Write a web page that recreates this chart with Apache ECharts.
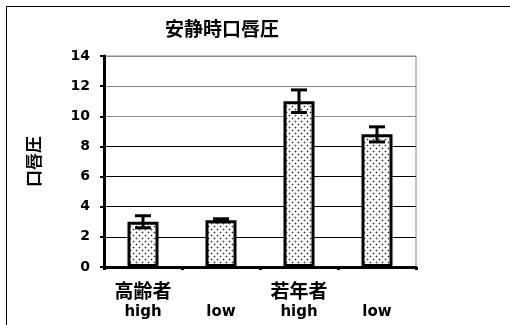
<!DOCTYPE html>
<html>
<head>
<meta charset="utf-8">
<script src="https://cdn.jsdelivr.net/npm/echarts@6/dist/echarts.min.js"></script>
<style>
  html, body { margin: 0; padding: 0; background: #fff; }
  #chart { width: 510px; height: 325px; }
</style>
</head>
<body>
<div id="chart"></div>
<script>
const groups = ['高齢者', '', '若年者', '']
const levels = ['high', 'low', 'high', 'low']
const values = [3.0, 3.1, 11.0, 8.8]
const errors = [0.4, 0.1, 0.75, 0.5]
const yTicks = [0, 14, 2]   // min, max, interval

const font = '"DejaVu Sans", "Noto Sans CJK JP", sans-serif'

// dotted fill like the original
const makeDots = () => {
  const c = document.createElement('canvas')
  c.width = 6
  c.height = 6
  const ctx = c.getContext('2d')
  ctx.fillStyle = '#fff'
  ctx.fillRect(0, 0, 6, 6)
  ctx.fillStyle = '#bbb'
  ctx.fillRect(0, 1, 3, 1)
  ctx.fillRect(1, 0, 1, 3)
  ctx.fillRect(3, 4, 3, 1)
  ctx.fillRect(4, 3, 1, 3)
  ctx.fillStyle = '#333'
  ctx.fillRect(1, 1, 1, 1)
  ctx.fillRect(4, 4, 1, 1)
  return c
}

const chart = echarts.init(document.getElementById('chart'))

const option = {
  backgroundColor: '#fff',
  animation: false,
  title: {
    text: '安静時口唇圧',
    left: 160,
    top: 17,
    textStyle: { fontFamily: font, fontSize: 19, fontWeight: 'bold', color: '#000' },
  },
  graphic: [{
    type: 'rect',
    shape: { x: 6.5, y: 6.5, width: 600, height: 400 },
    style: { fill: 'none', stroke: '#000', lineWidth: 1 },
    silent: true,
  }],
  grid: {
    left: 104,
    top: 56,
    right: 94,
    bottom: 58,
    show: true,
    borderColor: '#888',
    borderWidth: 1,
  },
  xAxis: [
    {
      type: 'category',
      data: levels,
      position: 'bottom',
      axisLine: { lineStyle: { color: '#000', width: 3 } },
      axisTick: { show: true, interval: 0, length: 3, lineStyle: { color: '#000', width: 3 } },
      axisLabel: {
        interval: 0, margin: 38, color: '#000',
        fontFamily: font, fontSize: 15, fontWeight: 'bold',
      },
      splitLine: { show: false },
    },
    {
      type: 'category',
      data: groups,
      position: 'bottom',
      axisLine: { show: false },
      axisTick: { show: false },
      axisLabel: {
        interval: 0, margin: 17, color: '#000',
        fontFamily: font, fontSize: 19, fontWeight: 'bold',
      },
      splitLine: { show: false },
    },
  ],
  yAxis: {
    type: 'value',
    min: yTicks[0],
    max: yTicks[1],
    interval: yTicks[2],
    name: '口唇圧',
    nameLocation: 'middle',
    nameRotate: 90,
    nameGap: 60,
    nameTextStyle: { fontFamily: font, fontSize: 17, fontWeight: 'bold', color: '#000' },
    axisLine: { show: true, lineStyle: { color: '#000', width: 3 } },
    axisTick: { show: true, length: 4, lineStyle: { color: '#000', width: 2 } },
    axisLabel: { margin: 14, color: '#000', fontFamily: font, fontSize: 14, fontWeight: 'bold' },
    splitLine: {
      show: true,
      lineStyle: {
        color: ['#000', '#000', '#000', '#000', '#000', '#888', '#888', '#888'],
        width: 1,
      },
    },
  },
  series: [
    {
      type: 'bar',
      xAxisIndex: 0,
      data: values,
      barWidth: 31,
      itemStyle: {
        color: { image: makeDots(), repeat: 'repeat' },
        borderColor: '#000',
        borderWidth: 3,
      },
      z: 2,
    },
    {
      type: 'custom',
      xAxisIndex: 0,
      data: values.map((v, i) => [i, v - errors[i], v + errors[i]]),
      encode: { x: 0, y: [1, 2] },
      z: 5,
      renderItem: (params, api) => {
        const x = api.value(0)
        const lo = api.coord([x, api.value(1)])
        const hi = api.coord([x, api.value(2)])
        const half = 8
        const style = { stroke: '#000', lineWidth: 3 }
        return {
          type: 'group',
          children: [
            { type: 'line', shape: { x1: lo[0], y1: lo[1], x2: hi[0], y2: hi[1] }, style },
            { type: 'line', shape: { x1: hi[0] - half, y1: hi[1], x2: hi[0] + half, y2: hi[1] }, style },
            { type: 'line', shape: { x1: lo[0] - half, y1: lo[1], x2: lo[0] + half, y2: lo[1] }, style },
          ],
        }
      },
    },
  ],
}

chart.setOption(option)
</script>
</body>
</html>
